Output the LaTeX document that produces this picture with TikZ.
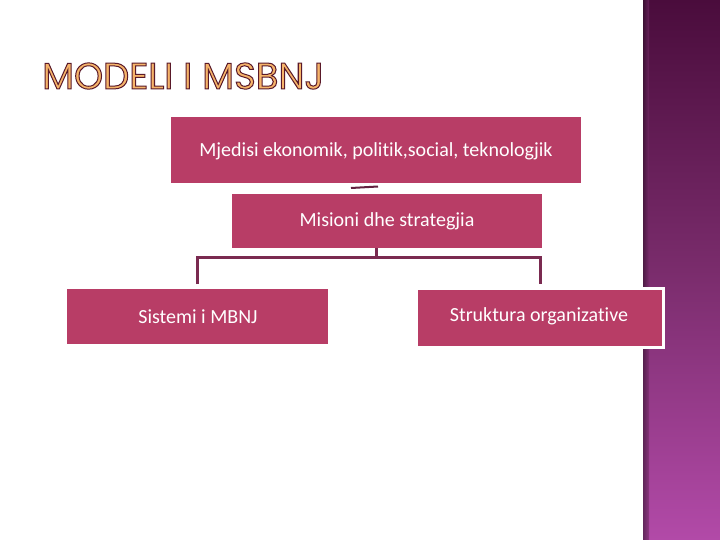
\documentclass[tikz,border=0pt]{standalone}
\usepackage{fontspec}
\setmainfont{Carlito}[Ligatures=NoCommon]
\newfontfamily\titlefont{Poppins}
\definecolor{boxfill}{HTML}{B83D66}
\definecolor{linecol}{HTML}{7A2A50}
\definecolor{bandtop}{HTML}{4A0C3C}
\definecolor{bandmid}{HTML}{7A2C6C}
\definecolor{bandbot}{HTML}{B24AA8}
\definecolor{titleorange}{HTML}{F6B46A}
\definecolor{titleedge}{HTML}{5A1A28}
\begin{document}
\begin{tikzpicture}[x=1pt,y=-1pt,
  pbox/.style={fill=boxfill, draw=none, inner sep=0pt, anchor=north west},
  lbl/.style={text=white, font=\fontsize{20}{22}\selectfont, inner sep=0pt},
  conn/.style={draw=linecol, line width=3pt}]
\useasboundingbox (0,0) rectangle (720,540);
\fill[white] (0,0) rectangle (720,540);
% right band
\shade[top color=bandtop, bottom color=bandbot, middle color=bandmid] (643,0) rectangle (720,540);
\shade[left color=black!60!bandmid, right color=bandmid, opacity=0.6] (643,0) rectangle (649,540);
% title
\node[anchor=west, inner sep=0pt, text=titleorange] (title) at (42,76) {\titlefont\fontsize{37}{40}\selectfont\special{pdf:literal 2 Tr 1 w 0.35 0.1 0.16 RG}MODELI I MSBNJ\special{pdf:literal 0 Tr}};
% boxes
\node[pbox, minimum width=410pt, minimum height=66pt] (env) at (171,117) {};
\node[lbl] at (376,151) {Mjedisi ekonomik, politik,social, teknologjik};
\node[pbox, minimum width=310pt, minimum height=54pt] (mis) at (232,194) {};
\node[lbl] at (387,221) {Misioni dhe strategjia};
\node[pbox, minimum width=261pt, minimum height=55pt] (sis) at (67,289) {};
\node[lbl] at (198,317) {Sistemi i MBNJ};
\node[pbox, draw=white, line width=3pt, minimum width=247pt, minimum height=59pt] (str) at (415,287) {};
\node[lbl] at (539,316) {Struktura organizative};
% connectors
\coordinate (a1) at (351,188);
\coordinate (a2) at (378,186.5);
\draw[draw=linecol!80!black, line width=2pt] (a1) -- (a2);
\coordinate (j) at (376,257);
\draw[conn] (mis.south -| j) -- (j);
\draw[conn] (197,284) |- (j) -| (540,284);
\end{tikzpicture}
\end{document}
